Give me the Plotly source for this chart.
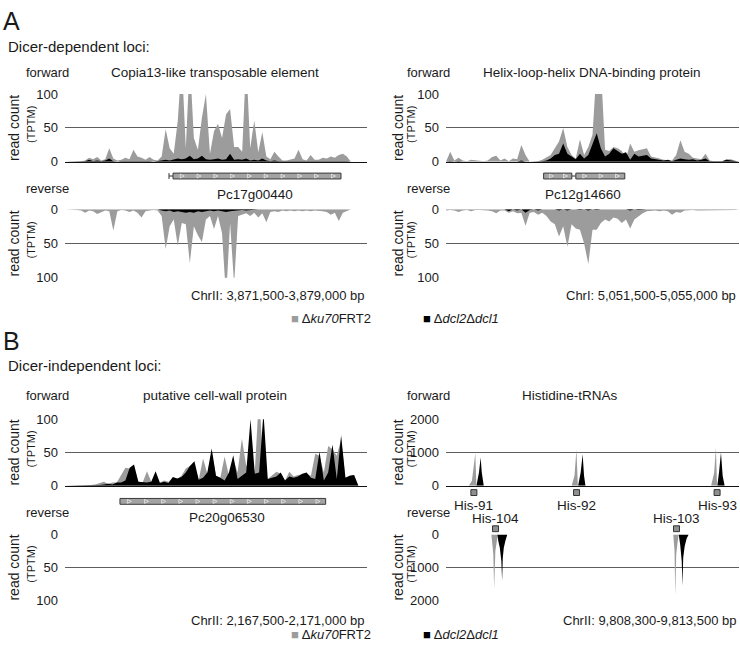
import numpy as np
import plotly.graph_objects as go

W, H = 740, 653

# ---------------- data ----------------
# Panel A, left: ChrII 3,871,500-3,879,000, 100 bp bins
A1_START, A1_END, A1_STEP = 3871500, 3879000, 100
A1_FWD_KU70 = [0, 0, 1, 0, 1, 2, 6, 4, 7, 2, 4, 20, 5, 2, 3, 6, 4, 18, 8, 6,
               3, 7, 3, 2, 8, 48, 20, 12, 60, 150, 20, 150, 35, 18, 65, 100, 12, 45, 56, 35,
               70, 78, 22, 22, 15, 150, 20, 61, 14, 44, 8, 4, 15, 8, 2, 2, 3, 5, 18, 4,
               2, 10, 3, 3, 6, 5, 8, 6, 10, 12, 8, 0, 0, 0, 0, 0]
A1_FWD_DCL = [0, 0, 0, 0, 0, 1, 3, 1, 2, 1, 2, 5, 1, 0, 1, 1, 1, 2, 1, 1,
              1, 1, 0, 1, 2, 3, 2, 3, 5, 4, 5, 9, 4, 5, 9, 4, 3, 4, 5, 3,
              4, 12, 3, 4, 3, 5, 2, 3, 2, 5, 2, 1, 2, 1, 1, 1, 1, 1, 2, 1,
              1, 1, 1, 1, 1, 1, 1, 1, 1, 1, 1, 0, 0, 0, 0, 0]
A1_REV_KU70 = [0, 0, 0, 1, 2, 5, 2, 3, 7, 4, 2, 3, 31, 3, 1, 2, 4, 2, 5, 12,
               3, 2, 1, 2, 10, 58, 25, 15, 53, 20, 22, 79, 25, 38, 48, 15, 10, 29, 10, 35,
               130, 20, 110, 10, 8, 6, 10, 5, 12, 6, 19, 4, 3, 4, 2, 3, 2, 3, 2, 3,
               2, 3, 2, 2, 3, 4, 8, 5, 17, 5, 2, 0, 0, 0, 0, 0]
A1_REV_DCL = [0, 0, 0, 0, 0, 0, 0, 0, 0, 0, 0, 0, 1, 0, 0, 0, 0, 0, 0, 1,
              0, 0, 0, 0, 2, 3, 2, 4, 3, 4, 5, 4, 5, 3, 4, 3, 2, 3, 2, 3,
              4, 3, 2, 2, 1, 2, 1, 0, 0, 0, 0, 0, 0, 0, 0, 0, 0, 0, 0, 0,
              0, 0, 0, 0, 0, 0, 0, 0, 0, 0, 0, 0, 0, 0, 0, 0]

# Panel A, right: ChrI 5,051,500-5,055,000, 50 bp bins
A2_START, A2_END, A2_STEP = 5051500, 5055000, 50
A2_FWD_KU70 = [0, 15, 2, 6, 2, 1, 3, 2, 1, 1, 2, 7, 9, 2, 5, 1, 5, 4, 25, 10,
               0, 0, 1, 3, 6, 10, 20, 30, 50, 22, 10, 5, 33, 10, 22, 40, 140, 140, 18, 16,
               22, 20, 16, 5, 27, 15, 17, 18, 20, 8, 7, 5, 3, 3, 2, 10, 32, 15, 12, 6,
               5, 4, 12, 2, 1, 1, 1, 4, 4, 2, 0]
A2_FWD_DCL = [0, 1, 0, 1, 0, 0, 0, 0, 0, 0, 0, 1, 1, 0, 0, 0, 1, 0, 2, 0,
              0, 0, 0, 1, 2, 5, 10, 12, 27, 12, 8, 4, 12, 5, 10, 25, 42, 20, 8, 12,
              20, 16, 12, 14, 3, 12, 8, 9, 10, 5, 4, 3, 2, 3, 1, 3, 5, 4, 3, 4,
              2, 3, 5, 1, 1, 1, 1, 3, 2, 2, 0]
A2_REV_KU70 = [2, 1, 2, 4, 2, 1, 3, 1, 1, 1, 2, 3, 6, 2, 2, 5, 3, 6, 5, 24,
               5, 4, 8, 5, 10, 18, 22, 40, 25, 55, 22, 28, 30, 50, 80, 30, 30, 20, 15, 18,
               12, 14, 20, 15, 28, 15, 10, 6, 3, 2, 2, 3, 2, 3, 8, 4, 5, 2, 1, 1,
               2, 2, 2, 1, 1, 1, 1, 1, 1, 1, 0]
A2_REV_DCL = [0, 0, 0, 0, 0, 0, 0, 0, 0, 0, 0, 0, 1, 0, 0, 3, 0, 2, 0, 5,
              1, 0, 2, 0, 0, 1, 0, 2, 0, 2, 0, 0, 1, 0, 2, 0, 1, 0, 0, 0,
              1, 0, 0, 0, 2, 0, 1, 0, 0, 0, 0, 0, 0, 0, 0, 0, 0, 0, 0, 0,
              0, 0, 0, 0, 0, 0, 0, 0, 0, 0, 0]

# Panel B, left: ChrII 2,167,500-2,171,000, 50 bp bins
B1_START, B1_END, B1_STEP = 2167500, 2171000, 50
B1_FWD_KU70 = [0, 0, 0, 0, 0, 0, 1, 2, 4, 6, 3, 5, 5, 15, 27, 26, 28, 6, 5, 22,
               6, 20, 5, 8, 6, 12, 10, 15, 26, 30, 30, 9, 41, 18, 50, 15, 12, 44, 15, 40,
               20, 71, 30, 30, 22, 140, 20, 10, 15, 21, 18, 8, 21, 14, 16, 17, 18, 15, 48, 45,
               20, 60, 55, 45, 70, 12, 15, 16, 0, 0, 0]
B1_FWD_DCL = [0, 0, 0, 0, 0, 0, 0, 0, 1, 2, 3, 2, 5, 5, 8, 27, 32, 6, 5, 5,
              6, 22, 4, 6, 4, 13, 11, 13, 20, 30, 37, 9, 12, 20, 56, 15, 12, 8, 20, 46,
              10, 15, 20, 100, 18, 20, 110, 10, 12, 14, 20, 8, 14, 12, 14, 18, 20, 12, 10, 51,
              8, 20, 62, 10, 76, 12, 15, 16, 0, 0, 0]
B1_REV_KU70 = [0] * 71
B1_REV_DCL = [0] * 71

# Panel B, right: ChrII 9,808,300-9,813,500 (Histidine tRNAs)
B2_START, B2_END = 9808300, 9813500
B2_FWD_KU70_POS = [9808300, 9808705, 9808760, 9808795, 9808820, 9808840,
                   9810530, 9810580, 9810615, 9810640,
                   9813005, 9813060, 9813090, 9813110, 9813500]
B2_FWD_KU70_VAL = [0, 0, 150, 600, 980, 0, 0, 300, 1100, 0, 0, 400, 1150, 0, 0]
B2_FWD_DCL_POS = [9808300, 9808840, 9808885, 9808915, 9808935, 9808970,
                  9810645, 9810690, 9810725, 9810750, 9810775,
                  9813115, 9813145, 9813180, 9813210, 9813245, 9813500]
B2_FWD_DCL_VAL = [0, 0, 400, 850, 400, 0, 0, 400, 950, 300, 0, 0, 400, 1000, 300, 0, 0]
B2_REV_KU70_POS = [9808300, 9809105, 9809140, 9809154, 9809176, 9809202, 9809220,
                   9812333, 9812356, 9812368, 9812386, 9812412, 9812430, 9813500]
B2_REV_KU70_VAL = [0, 0, 600, 1650, 500, 100, 0, 0, 500, 1850, 600, 200, 0, 0]
B2_REV_DCL_POS = [9808300, 9809211, 9809229, 9809255, 9809282, 9809296, 9809308, 9809326, 9809352, 9809388,
                  9812430, 9812456, 9812483, 9812497, 9812510, 9812536, 9812571, 9812607, 9813500]
B2_REV_DCL_VAL = [0, 0, 200, 400, 800, 1400, 700, 400, 200, 0, 0, 300, 800, 1550, 700, 350, 120, 0, 0]

# Gene annotations
GENE_A1_NAME, GENE_A1_SPAN, GENE_A1_EXONS = "Pc17g00440", (3874083, 3878354), [(3874182, 3878354)]
GENE_A2_NAME, GENE_A2_SPAN, GENE_A2_EXONS = "Pc12g14660", (5052666, 5053636), [(5052666, 5053003), (5053051, 5053636)]
GENE_B1_NAME, GENE_B1_SPAN, GENE_B1_EXONS = "Pc20g06530", (2168137, 2170521), [(2168137, 2170521)]
TRNA_FWD_POS = [9808795, 9810617, 9813111]
TRNA_FWD_NAMES = ["His-91", "His-92", "His-93"]
TRNA_REV_POS = [9809179, 9812391]
TRNA_REV_NAMES = ["His-104", "His-103"]

TITLES = ["Copia13-like transposable element", "Helix-loop-helix DNA-binding protein",
          "putative cell-wall protein", "Histidine-tRNAs"]
COORDS = ["ChrII: 3,871,500-3,879,000 bp", "ChrI: 5,051,500-5,055,000 bp",
          "ChrII: 2,167,500-2,171,000 bp", "ChrII: 9,808,300-9,813,500 bp"]
SERIES = ["\u0394<i>ku70</i>FRT2", "\u0394<i>dcl2</i>\u0394<i>dcl1</i>"]

# ---------------- style ----------------
FONT = "Liberation Sans, Arial, sans-serif"
GREY = "#9c9c9c"
BLACK = "#000000"
GRID = "#5e5e5e"
TXT = "#1a1a1a"


def px(x):
    return x / W


def py(y):
    return 1 - y / H


def bins(start, step, vals):
    return [start + i * step for i in range(len(vals))]


XL, XR = (65, 367), (446, 739)
subplots = [
    (XL, (89, 158.5), (A1_START, A1_END), [0, 100], [0, 50, 100], True,
     bins(A1_START, A1_STEP, A1_FWD_KU70), A1_FWD_KU70, bins(A1_START, A1_STEP, A1_FWD_DCL), A1_FWD_DCL),
    (XL, (207, 277), (A1_START, A1_END), [100, 0], [0, 50, 100], False,
     bins(A1_START, A1_STEP, A1_REV_KU70), A1_REV_KU70, bins(A1_START, A1_STEP, A1_REV_DCL), A1_REV_DCL),
    (XR, (89, 158.5), (A2_START, A2_END), [0, 100], [0, 50, 100], True,
     bins(A2_START, A2_STEP, A2_FWD_KU70), A2_FWD_KU70, bins(A2_START, A2_STEP, A2_FWD_DCL), A2_FWD_DCL),
    (XR, (207, 277), (A2_START, A2_END), [100, 0], [0, 50, 100], False,
     bins(A2_START, A2_STEP, A2_REV_KU70), A2_REV_KU70, bins(A2_START, A2_STEP, A2_REV_DCL), A2_REV_DCL),
    (XL, (422, 490), (B1_START, B1_END), [0, 100], [0, 50, 100], True,
     bins(B1_START, B1_STEP, B1_FWD_KU70), B1_FWD_KU70, bins(B1_START, B1_STEP, B1_FWD_DCL), B1_FWD_DCL),
    (XL, (540, 607.5), (B1_START, B1_END), [100, 0], [0, 50, 100], False,
     bins(B1_START, B1_STEP, B1_REV_KU70), B1_REV_KU70, bins(B1_START, B1_STEP, B1_REV_DCL), B1_REV_DCL),
    (XR, (422, 490), (B2_START, B2_END), [0, 2000], [0, 1000, 2000], True,
     B2_FWD_KU70_POS, B2_FWD_KU70_VAL, B2_FWD_DCL_POS, B2_FWD_DCL_VAL),
    (XR, (540, 607.5), (B2_START, B2_END), [2000, 0], [0, 1000, 2000], False,
     B2_REV_KU70_POS, B2_REV_KU70_VAL, B2_REV_DCL_POS, B2_REV_DCL_VAL),
]

fig = go.Figure()
layout = dict(width=W, height=H, margin=dict(l=0, r=0, t=0, b=0),
              paper_bgcolor="white", plot_bgcolor="rgba(0,0,0,0)", showlegend=False,
              font=dict(family=FONT, color=TXT, size=13))

for i, (xp, yp, xr, yr, tv, fwd, gx, gy, bx, by) in enumerate(subplots):
    n = i + 1
    xname = "x" if n == 1 else f"x{n}"
    yname = "y" if n == 1 else f"y{n}"
    fig.add_trace(go.Scatter(x=gx, y=gy, mode="lines", line=dict(width=0, color=GREY),
                             fill="tozeroy", fillcolor=GREY, xaxis=xname, yaxis=yname, hoverinfo="skip"))
    fig.add_trace(go.Scatter(x=bx, y=by, mode="lines", line=dict(width=0, color=BLACK),
                             fill="tozeroy", fillcolor=BLACK, xaxis=xname, yaxis=yname, hoverinfo="skip"))
    layout["xaxis" if n == 1 else f"xaxis{n}"] = dict(
        domain=[px(xp[0]), px(xp[1])], range=list(xr), anchor=yname,
        showticklabels=False, ticks="", showgrid=False, zeroline=False,
        showline=fwd, linecolor="#111111", linewidth=1, fixedrange=True)
    layout["yaxis" if n == 1 else f"yaxis{n}"] = dict(
        domain=[py(yp[1]), py(yp[0])], range=yr, anchor=xname,
        tickvals=tv, ticktext=[str(v) for v in tv], ticks="", showgrid=True,
        gridcolor=GRID, gridwidth=1, zeroline=False, showline=False,
        tickfont=dict(size=13, color=TXT), ticklabelstandoff=6, fixedrange=True)

ann = []
shapes = []


def text(x, y, s, size=13, xanchor="left", yanchor="middle", angle=0, color=TXT):
    ann.append(dict(x=px(x), y=py(y), xref="paper", yref="paper", text=s, showarrow=False,
                    xanchor=xanchor, yanchor=yanchor, textangle=angle,
                    font=dict(size=size, color=color, family=FONT)))


# panel letters / headers
text(1, 14, "A", size=25)
text(6, 40, "Dicer-dependent loci:", size=15)
text(1, 342, "B", size=25)
text(6, 367, "Dicer-independent loci:", size=15)

col_info = [(XL, 24), (XR, 405)]
rows = [(67, 186, (89, 158.5), (207, 277)), (398, 517, (422, 490), (540, 607.5))]
title_cx = [[215, 592], [215, 570]]
for r, (yf, yr_, yfd, yrd) in enumerate(rows):
    for c, (xp, xlab) in enumerate(col_info):
        text(xlab, yf, "forward")
        text(xlab, yr_, "reverse")
        text(title_cx[r][c], yf, TITLES[r * 2 + c], size=13.5, xanchor="center")
        text(xp[1] - 1, 295 if r == 0 else 628, COORDS[r * 2 + c], xanchor="right")
        rc_x = 14 if c == 0 else 398
        tp_x = 31 if c == 0 else 411
        for yd in (yfd, yrd):
            ym = (yd[0] + yd[1]) / 2
            text(rc_x, ym, "read count", size=14, xanchor="center", angle=-90)
            text(tp_x, ym - 3, "(TPTM)", size=11, xanchor="center", angle=-90)

# legends
for ly in (319, 642):
    text(289, ly, f"<span style='color:{GREY}'>\u25A0</span> " + SERIES[0])
    text(421, ly, f"<span style='color:{BLACK}'>\u25A0</span> " + SERIES[1])


# gene models
def gene(xref, xp, xr, span, exons, name, ytop, ybot, label_x, label_y):
    bp_per_px = (xr[1] - xr[0]) / (xp[1] - xp[0])
    ymid = (ytop + ybot) / 2
    if span[0] < exons[0][0]:
        shapes.append(dict(type="line", xref=xref, yref="paper", x0=span[0], x1=span[0],
                           y0=py(ytop), y1=py(ybot), line=dict(color="#333", width=1)))
        shapes.append(dict(type="line", xref=xref, yref="paper", x0=span[0], x1=exons[0][0],
                           y0=py(ymid), y1=py(ymid), line=dict(color="#333", width=1)))
    for a, b in zip(exons[:-1], exons[1:]):
        shapes.append(dict(type="line", xref=xref, yref="paper", x0=a[1], x1=b[0],
                           y0=py(ymid), y1=py(ymid), line=dict(color="#333", width=1)))
    for e0, e1 in exons:
        shapes.append(dict(type="rect", xref=xref, yref="paper", x0=e0, x1=e1,
                           y0=py(ybot), y1=py(ytop), fillcolor="#a3a3a3",
                           line=dict(color="#3a3a3a", width=1)))
        wpx = (e1 - e0) / bp_per_px
        n = max(1, int(round(wpx / 16.8)))
        step = (e1 - e0) / n
        for k in range(n):
            cx = e0 + step * (k + 0.55)
            x0 = cx - 2 * bp_per_px
            x1 = cx + 2 * bp_per_px
            path = f"M {x0},{py(ytop + 1)} L {x1},{py(ymid)} L {x0},{py(ybot - 1)} Z"
            shapes.append(dict(type="path", xref=xref, yref="paper", path=path,
                               line=dict(color="#e8e8e8", width=0.8), fillcolor="rgba(0,0,0,0)"))
    text(label_x, label_y, name, size=13.5, xanchor="center")


gene("x", XL, (A1_START, A1_END), GENE_A1_SPAN, GENE_A1_EXONS, GENE_A1_NAME, 170, 176, 255, 192)
gene("x3", XR, (A2_START, A2_END), GENE_A2_SPAN, GENE_A2_EXONS, GENE_A2_NAME, 170, 176, 583, 192)
gene("x5", XL, (B1_START, B1_END), GENE_B1_SPAN, GENE_B1_EXONS, GENE_B1_NAME, 503, 509, 227, 523)

# tRNA markers
bpp = (B2_END - B2_START) / (XR[1] - XR[0])
for pos, name in zip(TRNA_FWD_POS, TRNA_FWD_NAMES):
    shapes.append(dict(type="rect", xref="x7", yref="paper", x0=pos - 3 * bpp, x1=pos + 3 * bpp,
                       y0=py(500), y1=py(494), fillcolor="#8f8f8f", line=dict(color="#333", width=1)))
    ann.append(dict(x=pos, y=py(510), xref="x7", yref="paper", text=name, showarrow=False,
                    xanchor="center", yanchor="middle", font=dict(size=13.5, color=TXT, family=FONT)))
for pos, name in zip(TRNA_REV_POS, TRNA_REV_NAMES):
    shapes.append(dict(type="rect", xref="x7", yref="paper", x0=pos - 3 * bpp, x1=pos + 3 * bpp,
                       y0=py(537), y1=py(531), fillcolor="#8f8f8f", line=dict(color="#333", width=1)))
    ann.append(dict(x=pos, y=py(524), xref="x7", yref="paper", text=name, showarrow=False,
                    xanchor="center", yanchor="middle", font=dict(size=13.5, color=TXT, family=FONT)))

layout["annotations"] = ann
layout["shapes"] = shapes
fig.update_layout(**layout)

PAGE_JS = """
(function(){
  var s=document.createElement('style');
  s.textContent='html,body{margin:0!important;padding:0!important;overflow:hidden!important;}';
  document.head.appendChild(s);
})();
"""
fig.write_html("out.html", config={"displayModeBar": False}, post_script=PAGE_JS)
